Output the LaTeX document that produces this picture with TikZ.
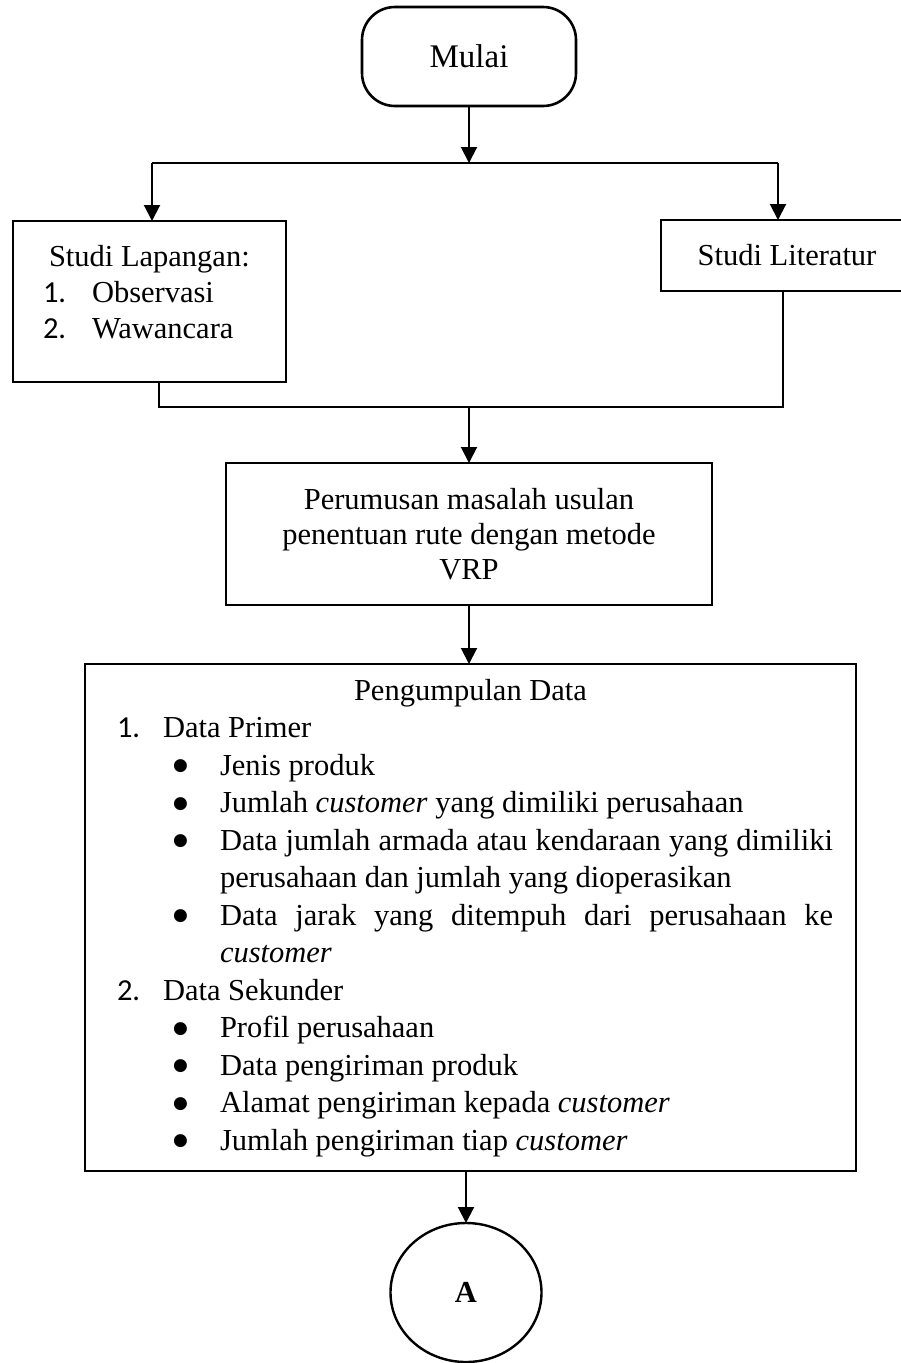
\documentclass[tikz,border=0pt]{standalone}
\usepackage{fontspec}
\setmainfont{Liberation Serif}
\newfontfamily\numfont{Carlito}
\newfontfamily\symfont{DejaVu Sans}
\usetikzlibrary{shapes.geometric, arrows.meta}
\usetikzlibrary{positioning}

\newcommand{\bodyfont}{\fontsize{30.5}{37.5}\selectfont}
\newcommand{\bigbullet}{\raisebox{4.5pt}{\symfont\fontsize{17}{17}\selectfont ●}}
\newcommand{\bulitem}[1]{{\leftskip=135pt \rightskip=23pt \noindent\llap{\makebox[47pt][l]{\bigbullet}}#1\par}}
\newcommand{\numitem}[2]{{\noindent\hspace*{32pt}\makebox[46pt][l]{\numfont #1}#2\par}}

\tikzstyle{terminal} = [rectangle, rounded corners=33pt, minimum width=214pt, minimum height=99pt, text centered, draw, line width=2.6pt, outer sep=0pt, font={\fontsize{33}{40}\selectfont}]
\tikzstyle{process} = [rectangle, draw, line width=2.8pt, inner sep=0pt, outer sep=0pt]
\tikzstyle{connector} = [ellipse, draw, line width=2.4pt, minimum width=151pt, minimum height=139pt, outer sep=0pt, font={\bodyfont\bfseries}]
\tikzstyle{arrowline} = [line width=2pt]
\tikzstyle{wireline} = [line width=1.4pt]

\begin{document}
\begin{tikzpicture}[x=1pt, y=-1pt, >={Triangle[length=16pt,width=16pt]}, node distance=59pt]
  \useasboundingbox (0,0) rectangle (901,1363);

  \node[terminal] at (469,56.5) (start) {Mulai};

  \node[process, minimum width=273pt, minimum height=161pt] at (149.5,301.5) (lapangan)
    {\parbox[c][161pt][t]{273pt}{\fontsize{30.5}{36}\selectfont
      \vspace*{20.5pt}\noindent\hspace*{36pt}\strut Studi Lapangan:\par
      \noindent\hspace*{30pt}\makebox[49pt][l]{\numfont 1.}Observasi\par
      \noindent\hspace*{30pt}\makebox[49pt][l]{\numfont 2.}Wawancara\par}};
  \node[process, minimum width=252pt, minimum height=71pt, font=\bodyfont] at (787,255.5) (literatur) {Studi Literatur};

  \node[process, minimum width=486pt, minimum height=142pt, align=center, font={\fontsize{30.5}{35}\selectfont}] at (469,534) (rumus)
    {Perumusan masalah usulan\\penentuan rute dengan metode\\VRP};

  \node[process, below=of rumus, xshift=1.5pt] (kumpul)
    {\parbox[c][507pt][t]{771pt}{\bodyfont
      \vspace*{10pt}
      {\centering\strut Pengumpulan Data\par}
      \numitem{1.}{Data Primer}
      \bulitem{Jenis produk}
      \bulitem{Jumlah \textit{customer} yang dimiliki perusahaan}
      \bulitem{Data jumlah armada atau kendaraan yang dimiliki\linebreak perusahaan dan jumlah yang dioperasikan}
      \bulitem{Data jarak yang ditempuh dari perusahaan ke\linebreak \textit{customer}}
      \numitem{2.}{Data Sekunder}
      \bulitem{Profil perusahaan}
      \bulitem{Data pengiriman produk}
      \bulitem{Alamat pengiriman kepada \textit{customer}}
      \bulitem{Jumlah pengiriman tiap \textit{customer}}}};

  \node[connector, below=52pt of kumpul, xshift=-4.5pt] (konektorA) {A};

  % percabangan
  \coordinate (split) at (469,163);
  \coordinate (splitL) at (152,163);
  \coordinate (splitR) at (778,163);
  % penggabungan
  \coordinate (join) at (469,407);
  \coordinate (joinL) at (159,407);
  \coordinate (joinR) at (783,407);

  \path[arrowline, ->] (start) edge (split);
  \draw[wireline] (splitL) -- (splitR);
  \draw[arrowline, ->] (splitL) -- (splitL |- lapangan.north);
  \draw[arrowline, ->] (splitR) -- (splitR |- literatur.north);
  \draw[wireline] (lapangan.south -| joinL) -- (joinL) -- (joinR) -- (literatur.south -| joinR);
  \path[arrowline, ->] (join) edge (rumus);
  \draw[arrowline, ->] (rumus.south) -- (rumus.south |- kumpul.north);
  \draw[arrowline, ->] (konektorA.north |- kumpul.south) -- (konektorA.north);
\end{tikzpicture}
\end{document}
